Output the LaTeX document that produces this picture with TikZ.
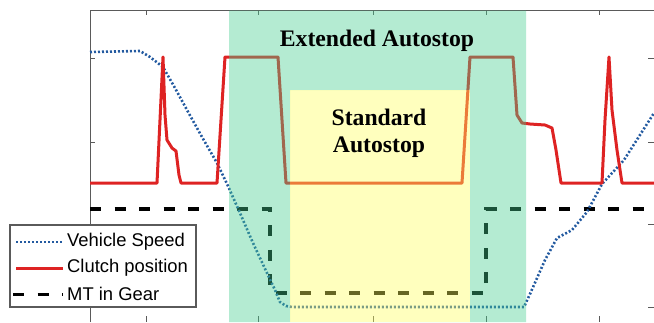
\documentclass[tikz,border=0pt]{standalone}
\usepackage{fontspec}
\setmainfont{Liberation Serif}
\newfontfamily\legendfont{Liberation Sans}
\usetikzlibrary{positioning}
\definecolor{speedblue}{RGB}{35,90,160}
\definecolor{clutchred}{RGB}{222,35,35}
\definecolor{extgreen}{RGB}{68,205,143}
\definecolor{stdyellow}{RGB}{255,255,92}
\definecolor{axisgray}{RGB}{90,90,90}
\tikzset{
  speedline/.style={speedblue, line width=2.6pt, dash pattern=on 2pt off 2pt},
  clutchline/.style={clutchred, line width=3pt, line join=round},
  gearline/.style={black, line width=3.5pt, dash pattern=on 11pt off 13.5pt},
  zonelabel/.style={font=\bfseries\fontsize{23.7}{27}\selectfont, anchor=base},
  legendtext/.style={font=\legendfont\fontsize{18.4}{20}\selectfont, anchor=west, inner sep=0pt}
}

\begin{document}
\begin{tikzpicture}[x=1pt, y=-1pt]
  \useasboundingbox (0,0) rectangle (654,322);
  \clip (0,0) rectangle (654,322);

  % Axes frame
  \draw[axisgray, line width=1pt] (90,322) -- (90,10) -- (654,10);
  % Ticks
  \foreach \x in {146,258,373,486,599} {
    \draw[axisgray] (\x,10) -- (\x,15);
    \draw[axisgray] (\x,316) -- (\x,322);
  }
  \foreach \y in {58,142,224,307} {
    \draw[axisgray] (90,\y) -- (95,\y);
    \draw[axisgray] (648,\y) -- (654,\y);
  }

  % MT in gear
  \draw[gearline] (90,209) -- (270,209) -- (270,293) -- (486,293)
    -- (486,209) -- (654,209);

  % Vehicle speed
  \draw[speedline] (90,52) -- (140,51) -- (150,57) -- (163,67) -- (175,88)
    -- (187,110) -- (202,137) -- (217,163) -- (228,186) -- (240,213)
    -- (253,243) -- (267,273) -- (275,290) -- (280,302) -- (286,306)
    -- (292,307) -- (524,307) -- (530,294) -- (545,260) -- (557,238)
    -- (572,230) -- (587,212) -- (602,184) -- (624,160) -- (654,113);

  % Clutch position
  \draw[clutchline] (90,183) -- (157,183) -- (160,120) -- (163,57)
    -- (165,115) -- (167,140) -- (172,148) -- (176,151) -- (179,175)
    -- (181,183) -- (217,183) -- (221,120) -- (225,57) -- (278,57)
    -- (282,120) -- (286,183) -- (462,183) -- (466,120) -- (470,57)
    -- (513,57) -- (517,115) -- (522,123) -- (530,124) -- (545,125)
    -- (552,128) -- (556,150) -- (561,183) -- (602,183) -- (605,120)
    -- (609,57) -- (612,110) -- (617,150) -- (622,183) -- (654,183);

  % Autostop zones
  \fill[extgreen, opacity=0.4, even odd rule]
    (229,10.5) rectangle (526,322) (290,90) rectangle (470,322);
  \fill[stdyellow, opacity=0.4] (290,90) rectangle (470,322);

  \node[zonelabel] (extlabel) at (377,46) {Extended Autostop};
  \node[zonelabel] (stdtop) at (379,125) {Standard};
  \node[zonelabel] (stdbottom) at (379,152) {Autostop};

  % Legend
  \draw[axisgray, fill=white, line width=1.2pt] (10,225) rectangle (196,307);
  \coordinate (speedA) at (16,242);
  \coordinate (speedB) at (63,242);
  \coordinate (clutchA) at (16,268);
  \coordinate (clutchB) at (63,268);
  \coordinate (gearA) at (13,294);
  \coordinate (gearB) at (63,294);
  \draw[speedline, line width=2.2pt] (speedA) -- (speedB);
  \draw[clutchline] (clutchA) -- (clutchB);
  \draw[gearline, line width=3pt] (gearA) -- (gearB);
  \node[legendtext, right=4pt of speedB] (speedtext) {Vehicle Speed};
  \node[legendtext, right=4pt of clutchB] (clutchtext) {Clutch position};
  \node[legendtext, right=4pt of gearB] (geartext) {MT in Gear};
\end{tikzpicture}
\end{document}
